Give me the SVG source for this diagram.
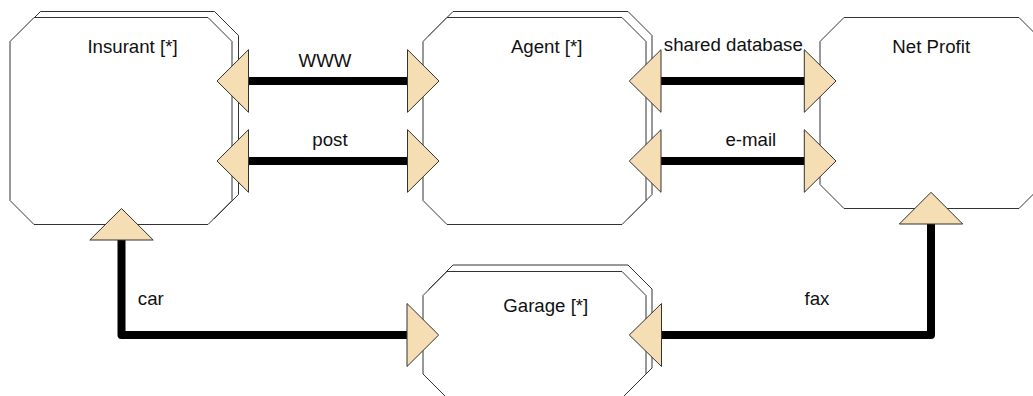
<svg xmlns="http://www.w3.org/2000/svg" width="1033" height="396" viewBox="0 0 1033 396">
  <style>
    .box { fill: #ffffff; stroke: #333333; stroke-width: 1; }
    .title { font-family: "Liberation Sans", Arial, sans-serif; font-size: 18.67px; fill: #111111; text-anchor: middle; }
    .wire { fill: none; stroke: #000000; stroke-width: 8; stroke-linejoin: round; }
    .port { fill: #f5deb3; stroke: #333333; stroke-width: 1; stroke-linejoin: miter; }
  </style>
  <rect width="1033" height="396" fill="#ffffff"/>

  <!-- Insurant (multiple instances: stacked octagon) -->
  <g id="insurant">
    <polygon class="box" points="40.5,11.5 214.5,11.5 238.5,35.5 238.5,194.5 214.5,218.5 40.5,218.5 16.5,194.5 16.5,35.5"/>
    <polygon class="box" points="34,17.5 208,17.5 232,41.5 232,200.5 208,224.5 34,224.5 10,200.5 10,41.5"/>
    <text class="title" x="132.5" y="53.3">Insurant [*]</text>
  </g>

  <!-- Agent (multiple instances) -->
  <g id="agent">
    <polygon class="box" points="453,11.5 628,11.5 652,35.5 652,194.5 628,218.5 453,218.5 429,194.5 429,35.5"/>
    <polygon class="box" points="447,17.5 622,17.5 646,41.5 646,200.5 622,224.5 447,224.5 423,200.5 423,41.5"/>
    <text class="title" x="546.7" y="53.3">Agent [*]</text>
  </g>

  <!-- Net Profit -->
  <g id="net-profit">
    <polygon class="box" points="844,17.5 1019,17.5 1043,41.5 1043,184.5 1019,208.5 844,208.5 820,184.5 820,41.5"/>
    <text class="title" x="931.2" y="53.3">Net Profit</text>
  </g>

  <!-- Garage (multiple instances) -->
  <g id="garage">
    <polygon class="box" points="453,265 628,265 652,289 652,368 628,392 453,392 429,368 429,289"/>
    <polygon class="box" points="447,271.5 622,271.5 646,295.5 646,374 622,398 447,398 423,374 423,295.5"/>
    <text class="title" x="545.8" y="311.7">Garage [*]</text>
  </g>

  <!-- Connectors with their port triangles and labels -->
  <g id="connectors">
    <!-- Insurant <-> Agent : WWW -->
    <g id="link-www">
      <line class="wire" x1="248" y1="81" x2="408" y2="81"/>
      <polygon class="port" points="217,81 248.5,49.7 248.5,112.3"/>
      <polygon class="port" points="439,81 407.5,49.7 407.5,112.3"/>
      <text class="title" x="325" y="66.7">WWW</text>
    </g>
    <!-- Insurant <-> Agent : post -->
    <g id="link-post">
      <line class="wire" x1="248" y1="161" x2="408" y2="161"/>
      <polygon class="port" points="217,161 248.5,129.7 248.5,192.3"/>
      <polygon class="port" points="439,161 407.5,129.7 407.5,192.3"/>
      <text class="title" x="330" y="146">post</text>
    </g>
    <!-- Agent <-> Net Profit : shared database -->
    <g id="link-shared-database">
      <line class="wire" x1="661" y1="81" x2="805" y2="81"/>
      <polygon class="port" points="629.3,81 661,49.7 661,112.3"/>
      <polygon class="port" points="836,81 804.3,49.7 804.3,112.3"/>
      <text class="title" x="733.3" y="50.8">shared database</text>
    </g>
    <!-- Agent <-> Net Profit : e-mail -->
    <g id="link-email">
      <line class="wire" x1="661" y1="161" x2="805" y2="161"/>
      <polygon class="port" points="629.3,161 661,129.7 661,192.3"/>
      <polygon class="port" points="836,161 804.3,129.7 804.3,192.3"/>
      <text class="title" x="750.8" y="145.8">e-mail</text>
    </g>
    <!-- Insurant <-> Garage : car -->
    <g id="link-car">
      <path class="wire" d="M121.5,240 V335 H408"/>
      <polygon class="port" points="121.5,208.5 153.2,240 89.8,240"/>
      <polygon class="port" points="438.7,335 407,303.5 407,366.5"/>
      <text class="title" x="150.8" y="305">car</text>
    </g>
    <!-- Net Profit <-> Garage : fax -->
    <g id="link-fax">
      <path class="wire" d="M931,224 V335 H661"/>
      <polygon class="port" points="931,192.3 962.7,224 899.3,224"/>
      <polygon class="port" points="629.3,335 661.5,303.5 661.5,366.5"/>
      <text class="title" x="817" y="305">fax</text>
    </g>
  </g>
</svg>
